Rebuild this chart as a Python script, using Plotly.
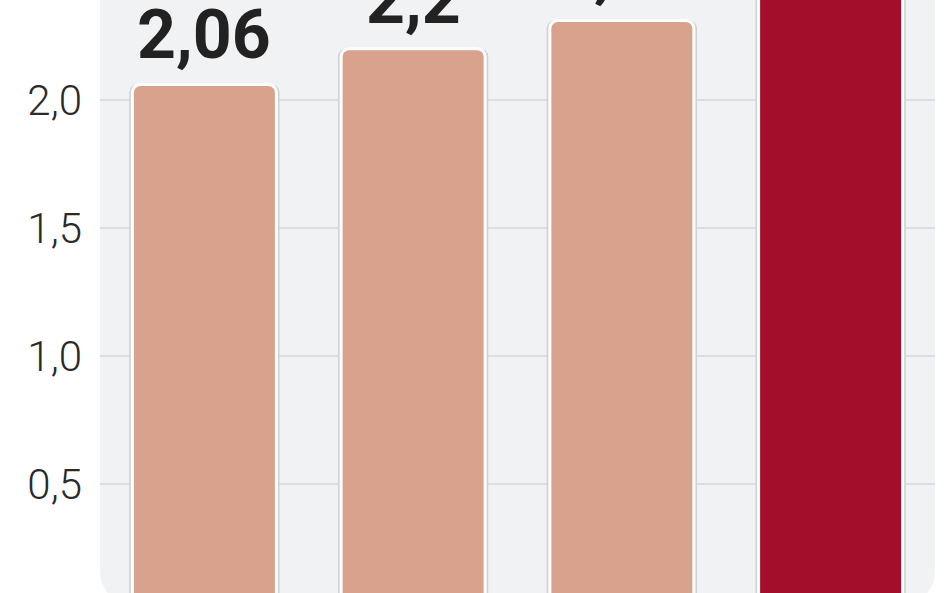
import plotly.graph_objects as go

categories = ["A", "B", "C", "D"]
values = [2.06, 2.2, 2.31, 2.5]
labels = ["2,06", "2,2", "2,31", "2,5"]
colors = ["#d9a28c", "#d9a28c", "#d9a28c", "#a30e2b"]

y_ticks = [0.0, 0.5, 1.0, 1.5, 2.0, 2.5]

fig = go.Figure()

# thin gray halo around the bars
fig.add_trace(go.Bar(
    x=categories, y=values, width=0.72,
    marker=dict(color="#cfd1d4", line=dict(width=0)),
    hoverinfo="skip", showlegend=False,
))
fig.add_trace(go.Bar(
    x=categories, y=values, width=0.69,
    marker=dict(color=colors, line=dict(color="white", width=3)),
    showlegend=False,
))

# value labels above the bars
for c, v, t in zip(categories, values, labels):
    fig.add_annotation(x=c, y=v, text=t, showarrow=False,
                       yanchor="bottom", yshift=7,
                       font=dict(family="Roboto, sans-serif", size=68,
                                 color="#222222", weight="bold"))

# rounded light-gray panel behind the grid
b = 0.035
rx, ry = 0.042, 0.137
path = (f"M 0,3 L 0,{b + ry} Q 0,{b} {rx},{b} L {1 - rx},{b} "
        f"Q 1,{b} 1,{b + ry} L 1,3 Z")
fig.add_shape(type="path", path=path, xref="paper", yref="y",
              fillcolor="#f1f2f4", line=dict(width=0), layer="below")

fig.update_layout(
    width=948, height=593,
    margin=dict(l=100, r=13, t=0, b=0, pad=0, autoexpand=False),
    paper_bgcolor="white", plot_bgcolor="white",
    barmode="overlay", barcornerradius=8,
    separators=", ",
    xaxis=dict(range=[-0.5, 3.5], showticklabels=False, showgrid=False,
               zeroline=False, showline=False, ticks=""),
    yaxis=dict(range=[0.074, 2.39], tickvals=y_ticks, tickformat=".1f",
               showgrid=True, gridcolor="#dcdde0", gridwidth=1.5,
               zeroline=False, showline=False, ticks="",
               ticklabelstandoff=17,
               tickfont=dict(family="Roboto, Open Sans, sans-serif", size=42,
                             color="#2a2a2a", weight=300)),
)

fig.write_html("out.html", config={"displayModeBar": False},
               post_script="document.body.style.margin='0';")
